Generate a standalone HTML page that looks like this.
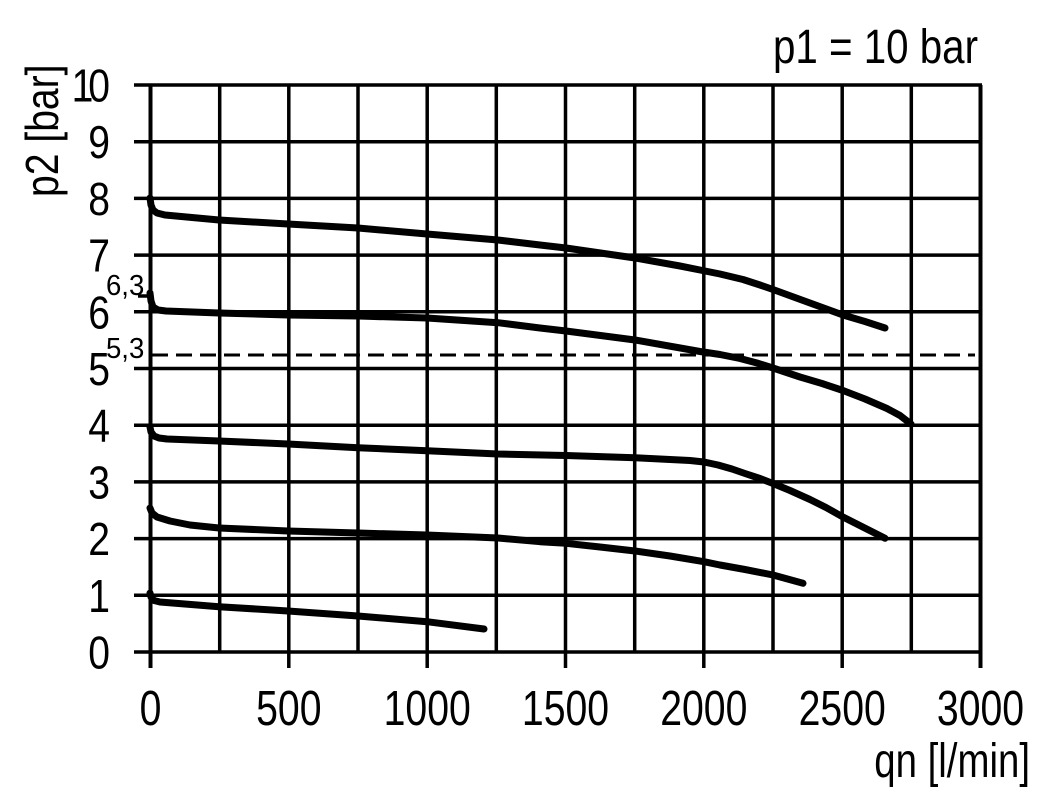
<!DOCTYPE html>
<html><head><meta charset="utf-8"><style>
html,body{margin:0;padding:0;background:#fff;}
svg{display:block;}
text{font-family:"Liberation Sans",Arial,sans-serif;fill:#000;}
</style></head><body>
<svg width="1051" height="803" viewBox="0 0 1051 803" xmlns="http://www.w3.org/2000/svg">
<rect width="1051" height="803" fill="#fff"/>
<g stroke="#000" stroke-width="3.5" fill="none">
<line x1="134" y1="85" x2="982" y2="85"/>
<line x1="134" y1="141.7" x2="980" y2="141.7"/>
<line x1="134" y1="198.4" x2="980" y2="198.4"/>
<line x1="134" y1="255.1" x2="980" y2="255.1"/>
<line x1="134" y1="311.8" x2="980" y2="311.8"/>
<line x1="134" y1="368.5" x2="980" y2="368.5"/>
<line x1="134" y1="425.2" x2="980" y2="425.2"/>
<line x1="134" y1="481.9" x2="980" y2="481.9"/>
<line x1="134" y1="538.6" x2="980" y2="538.6"/>
<line x1="134" y1="595.3" x2="980" y2="595.3"/>
<line x1="134" y1="652" x2="982" y2="652"/>
<line x1="150.5" y1="85" x2="150.5" y2="668" stroke-width="4"/>
<line x1="219.7" y1="85" x2="219.7" y2="652"/>
<line x1="288.8" y1="85" x2="288.8" y2="668"/>
<line x1="358" y1="85" x2="358" y2="652"/>
<line x1="427.2" y1="85" x2="427.2" y2="668"/>
<line x1="496.3" y1="85" x2="496.3" y2="652"/>
<line x1="565.5" y1="85" x2="565.5" y2="668"/>
<line x1="634.7" y1="85" x2="634.7" y2="652"/>
<line x1="703.8" y1="85" x2="703.8" y2="668"/>
<line x1="773" y1="85" x2="773" y2="652"/>
<line x1="842.2" y1="85" x2="842.2" y2="668"/>
<line x1="911.3" y1="85" x2="911.3" y2="652"/>
<line x1="980.5" y1="85" x2="980.5" y2="668" stroke-width="4"/>
<line x1="138" y1="296" x2="150" y2="296"/>
<line x1="152" y1="355" x2="975" y2="355" stroke-width="3" stroke-dasharray="16 8"/>
</g>
<g stroke="#000" stroke-width="7" fill="none" stroke-linecap="round" stroke-linejoin="round">
<polyline points="150,198 151,205 153,210 157,213 165,215 219,220 288,224 358,228 427,234 498,240 540,245 566,248 635,258 680,266 700,270 720,274 743,279.5 760,285 773,289.5 810,303 843,315 865,321.5 885,328"/>
<polyline points="150,293 151,301 153,307 158,310 166,311 219,313 288,315 358,316 427,318 498,322.7 540,328 566,331 635,340 700,351.5 720,354.5 740,358.5 757,363 773,368 800,377 822,383.5 843,390.5 865,399 887,408.5 900,415.5 911,424"/>
<polyline points="150,427 151,432 154,436 159,438 167,439 219,441 288,444 358,447.7 427,450.7 498,454 566,455.5 635,457.7 660,459 690,460.5 704,462 718,465 732,469 745,473.5 760,478.5 773,483.5 790,490.5 810,499.5 826,507.5 842,516.5 885,538.3"/>
<polyline points="150,508 152,513 157,517 170,521 190,525 219,528 288,531 358,533 427,535 498,538 540,541.7 566,543.3 600,547 635,551 670,556 704,561.7 720,565 745,569.5 773,575 803,583.3"/>
<polyline points="150,593 151,597 154,600.5 160,602 219,606.7 288,611 358,616 427,621.7 484,629"/>
</g>
<g font-size="46" text-anchor="end">
<text transform="translate(110,101.5) scale(0.85,1)">1<tspan dx="-6">0</tspan></text>
<text transform="translate(110,158.2) scale(0.85,1)">9</text>
<text transform="translate(110,214.9) scale(0.85,1)">8</text>
<text transform="translate(110,271.6) scale(0.85,1)">7</text>
<text transform="translate(110,328.3) scale(0.85,1)">6</text>
<text transform="translate(110,385) scale(0.85,1)">5</text>
<text transform="translate(110,441.7) scale(0.85,1)">4</text>
<text transform="translate(110,498.4) scale(0.85,1)">3</text>
<text transform="translate(110,555.1) scale(0.85,1)">2</text>
<text transform="translate(110,611.8) scale(0.85,1)">1</text>
<text transform="translate(110,668.5) scale(0.85,1)">0</text>
</g>
<g font-size="29">
<text transform="translate(106,295) scale(0.95,1)">6,3</text>
<text transform="translate(106,358) scale(0.95,1)">5,3</text>
</g>
<g font-size="49" text-anchor="middle">
<text transform="translate(150.5,725) scale(0.8,1)">0</text>
<text transform="translate(288.8,725) scale(0.8,1)">500</text>
<text transform="translate(427.2,725) scale(0.8,1)">1000</text>
<text transform="translate(565.5,725) scale(0.8,1)">1500</text>
<text transform="translate(703.8,725) scale(0.8,1)">2000</text>
<text transform="translate(842.2,725) scale(0.8,1)">2500</text>
<text transform="translate(980.5,725) scale(0.8,1)">3000</text>
</g>
<text font-size="48" text-anchor="end" transform="translate(1030,777) scale(0.8,1)">qn [l/min]</text>
<text font-size="48" text-anchor="end" transform="translate(978,63) scale(0.84,1)">p1 = 10 bar</text>
<text font-size="46" transform="translate(58,197) rotate(-90) scale(0.85,1)">p2 [bar]</text>
</svg>
</body></html>
